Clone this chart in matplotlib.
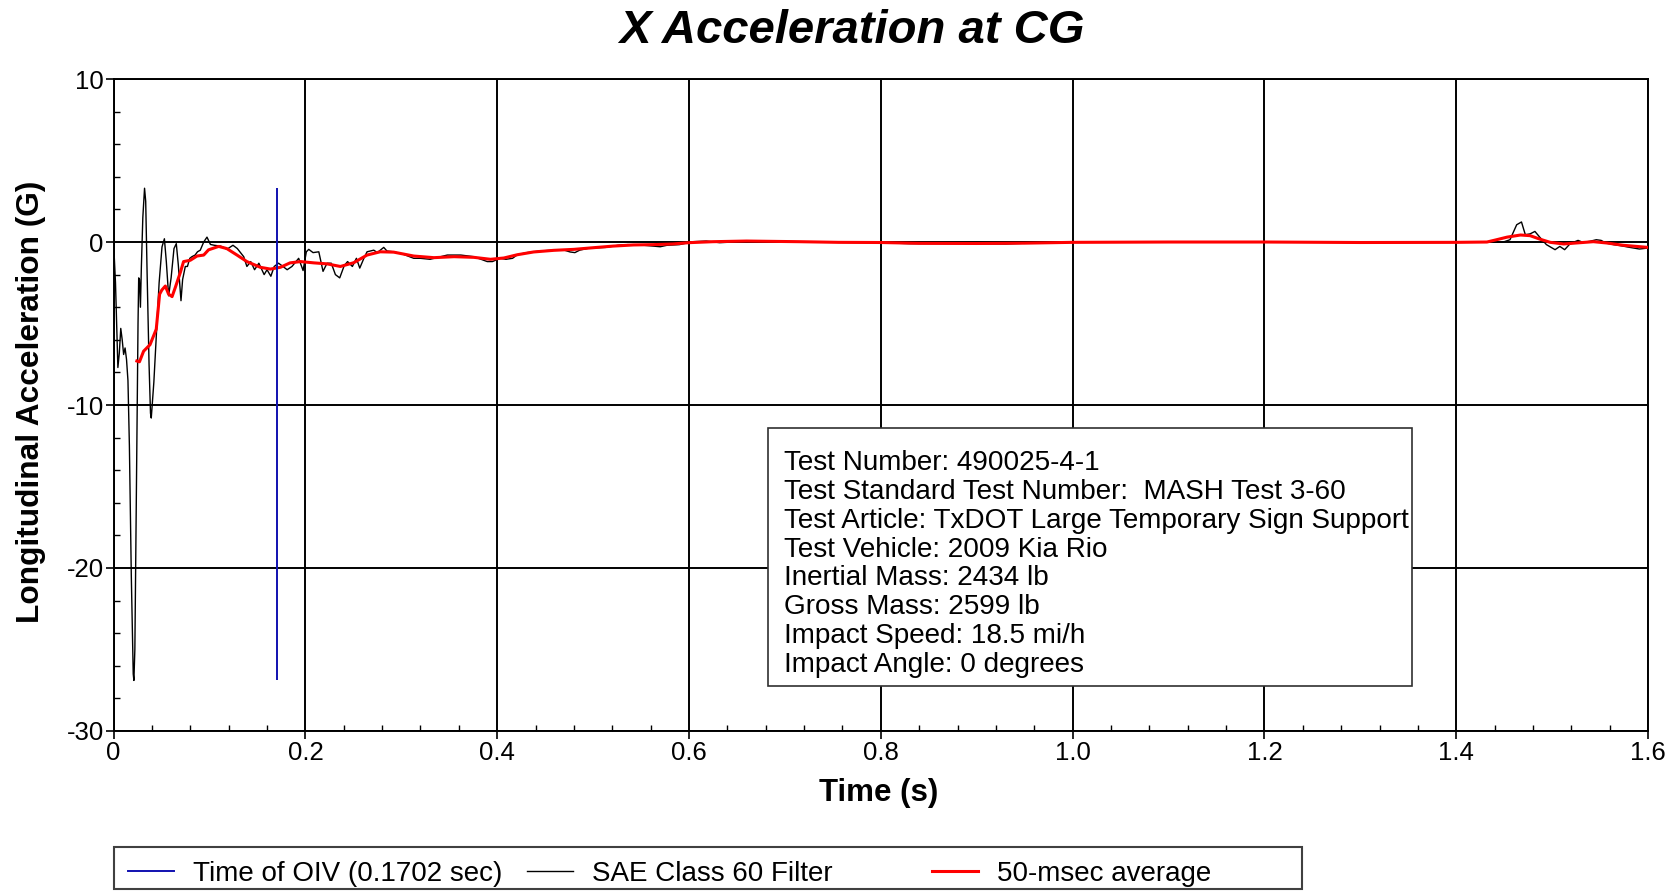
import numpy as np
import matplotlib
matplotlib.use("Agg")
import matplotlib.pyplot as plt
from matplotlib.ticker import MultipleLocator
from matplotlib.patches import Rectangle
from matplotlib.lines import Line2D

plt.rcParams['font.family'] = ['Liberation Sans', 'DejaVu Sans']

# SAE Class 60 filtered trace (time s, accel G)
sae_t = [0.000, 0.002, 0.0045, 0.006, 0.0075, 0.009, 0.0105, 0.012, 0.0135, 0.015,
         0.0165, 0.0185, 0.0205, 0.0212, 0.0222, 0.024, 0.0255, 0.0262, 0.027, 0.028,
         0.029, 0.0305, 0.0323, 0.0335, 0.035, 0.037, 0.0385, 0.0393, 0.0405, 0.042,
         0.0445, 0.0475, 0.0505, 0.053, 0.055, 0.0574, 0.060, 0.063, 0.0654, 0.0675,
         0.0703, 0.072, 0.0748, 0.077, 0.0795, 0.0817, 0.085, 0.0875, 0.0904, 0.094,
         0.0974, 0.101, 0.105, 0.1115, 0.1148, 0.118, 0.1245, 0.129, 0.1357, 0.139,
         0.143, 0.147, 0.1515, 0.157, 0.160, 0.164, 0.1675, 0.172, 0.1755, 0.181,
         0.186, 0.193, 0.1976, 0.201, 0.2035, 0.208, 0.214, 0.2184, 0.2226, 0.227,
         0.2313, 0.2358, 0.2405, 0.244, 0.249, 0.2532, 0.2567, 0.261, 0.2643, 0.2713,
         0.275, 0.2817, 0.285, 0.292, 0.302, 0.313, 0.320, 0.330, 0.348, 0.362,
         0.3757, 0.3896, 0.395, 0.403, 0.409, 0.416, 0.421, 0.431, 0.445, 0.459,
         0.470, 0.476, 0.481, 0.486, 0.496, 0.513, 0.526, 0.536, 0.553, 0.570,
         0.577, 0.590, 0.604, 0.618, 0.632, 0.646, 0.700, 0.760, 0.800, 0.830,
         0.880, 0.930, 0.960, 1.000, 1.100, 1.200, 1.300, 1.400, 1.449, 1.456,
         1.463, 1.468, 1.472, 1.477, 1.482, 1.487, 1.494, 1.503, 1.508, 1.513,
         1.518, 1.522, 1.527, 1.532, 1.539, 1.546, 1.551, 1.556, 1.564, 1.571,
         1.581, 1.591, 1.600]
sae_g = [0.0, -2.5, -7.7, -6.8, -5.3, -6.0, -6.9, -6.5, -7.2, -8.5,
         -12.5, -20.5, -26.5, -26.9, -25.0, -14.0, -5.0, -2.2, -2.3, -4.0,
         -1.5, 1.5, 3.3, 2.5, -2.0, -7.5, -10.5, -10.8, -9.8, -8.6,
         -5.8, -2.5, -0.3, 0.2, -1.2, -3.3, -2.2, -0.4, -0.1, -1.4,
         -3.6, -2.3, -1.5, -1.5, -1.0, -0.9, -0.8, -0.6, -0.5, 0.0,
         0.3, -0.15, -0.2, -0.25, -0.33, -0.45, -0.2, -0.4, -0.9, -1.5,
         -1.2, -1.7, -1.3, -2.0, -1.7, -2.1, -1.5, -1.3, -1.45, -1.7,
         -1.5, -1.0, -1.75, -0.6, -0.45, -0.65, -0.6, -1.8, -1.3, -1.3,
         -2.0, -2.2, -1.45, -1.2, -1.5, -1.0, -1.6, -1.0, -0.6, -0.5,
         -0.65, -0.33, -0.55, -0.6, -0.75, -1.0, -1.0, -1.06, -0.8, -0.8,
         -0.9, -1.2, -1.2, -1.0, -1.06, -1.0, -0.78, -0.65, -0.55, -0.5,
         -0.5, -0.61, -0.65, -0.5, -0.37, -0.33, -0.2, -0.16, -0.2, -0.29,
         -0.2, -0.16, 0.02, 0.06, -0.04, 0.0, 0.03, -0.02, -0.04, -0.1,
         -0.1, -0.12, -0.05, -0.02, 0.0, 0.0, -0.03, -0.02, 0.0, 0.14,
         1.06, 1.23, 0.45, 0.5, 0.65, 0.3, -0.16, -0.47, -0.27, -0.47,
         -0.15, -0.02, 0.1, -0.02, 0.04, 0.14, 0.1, -0.06, -0.16, -0.22,
         -0.33, -0.43, -0.37]

# 50-msec moving average
avg_t = [0.0243, 0.027, 0.0313, 0.038, 0.0445, 0.048, 0.0504, 0.054, 0.0574, 0.061,
         0.0643, 0.0696, 0.073, 0.080, 0.087, 0.094, 0.099, 0.1096, 0.118, 0.1287,
         0.139, 0.153, 0.1635, 0.174, 0.184, 0.195, 0.209, 0.2226, 0.2365, 0.2504,
         0.2643, 0.278, 0.292, 0.313, 0.334, 0.355, 0.3757, 0.393, 0.407, 0.421,
         0.438, 0.459, 0.480, 0.500, 0.521, 0.542, 0.563, 0.583, 0.600, 0.625,
         0.660, 0.687, 0.715, 0.756, 0.800, 0.840, 0.900, 0.950, 1.000, 1.100,
         1.200, 1.300, 1.400, 1.432, 1.442, 1.453, 1.467, 1.477, 1.487, 1.498,
         1.512, 1.525, 1.543, 1.557, 1.574, 1.588, 1.600]
avg_g = [-7.3, -7.35, -6.7, -6.3, -5.35, -3.2, -2.94, -2.7, -3.2, -3.35,
         -2.8, -1.87, -1.2, -1.12, -0.86, -0.8, -0.48, -0.27, -0.4, -0.8,
         -1.2, -1.55, -1.66, -1.55, -1.28, -1.2, -1.28, -1.34, -1.5, -1.27,
         -0.8, -0.6, -0.62, -0.86, -0.96, -0.9, -0.94, -1.06, -0.98, -0.78,
         -0.61, -0.51, -0.45, -0.35, -0.25, -0.18, -0.16, -0.12, -0.04, 0.02,
         0.06, 0.04, 0.02, -0.02, -0.03, -0.08, -0.09, -0.07, -0.02, 0.0,
         0.0, -0.03, -0.02, 0.0, 0.14, 0.3, 0.43, 0.39, 0.18, -0.02,
         -0.12, -0.06, 0.02, -0.06, -0.2, -0.27, -0.33]

oiv_time = 0.1702

x_ticks = [0, 0.2, 0.4, 0.6, 0.8, 1.0, 1.2, 1.4, 1.6]
x_labels = ['0', '0.2', '0.4', '0.6', '0.8', '1.0', '1.2', '1.4', '1.6']
y_ticks = [-30, -20, -10, 0, 10]
y_labels = ['-30', '-20', '-10', '0', '10']

info_lines = [
    "Test Number: 490025-4-1",
    "Test Standard Test Number:  MASH Test 3-60",
    "Test Article: TxDOT Large Temporary Sign Support",
    "Test Vehicle: 2009 Kia Rio",
    "Inertial Mass: 2434 lb",
    "Gross Mass: 2599 lb",
    "Impact Speed: 18.5 mi/h",
    "Impact Angle: 0 degrees",
]

fig = plt.figure(figsize=(16.8, 8.91), dpi=100)
ax = fig.add_axes([0.0676, 0.1796, 0.9134, 0.7317])

ax.plot(sae_t, sae_g, color='black', lw=1.0, zorder=3)
ax.plot(avg_t, avg_g, color='#ff0000', lw=2.2, zorder=4)
ax.vlines(oiv_time, min(sae_g), max(sae_g), color='#1010b0', lw=1.4, zorder=5)

ax.set_xlim(0, 1.6)
ax.set_ylim(-30, 10)
ax.set_xticks(x_ticks)
ax.set_xticklabels(x_labels)
ax.set_yticks(y_ticks)
ax.set_yticklabels(y_labels)
ax.xaxis.set_minor_locator(MultipleLocator(0.04))
ax.yaxis.set_minor_locator(MultipleLocator(2))
ax.tick_params(which='major', direction='out', length=6, width=1.2, pad=1,
               labelsize=18.5, top=False, right=False)
ax.tick_params(which='minor', direction='in', length=4, width=1.0,
               top=False, right=False)
ax.grid(True, which='major', color='black', lw=1.4)
ax.set_axisbelow(True)
for sp in ax.spines.values():
    sp.set_linewidth(1.4)
    sp.set_color('black')

fig.text(0.507, 0.965, "X Acceleration at CG", ha='center', va='center',
         fontsize=34, fontweight='bold', fontstyle='italic')
fig.text(0.523, 0.110, "Time (s)", ha='center', va='center',
         fontsize=22.5, fontweight='bold')
fig.text(0.0185, 0.549, "Longitudinal Acceleration (G)", ha='center', va='center',
         rotation=90, fontsize=22.8, fontweight='bold')

# info box
ax.add_patch(Rectangle((0.4571, 0.2301), 0.3833, 0.2901, transform=fig.transFigure,
                       facecolor='white', edgecolor='#303030', lw=1.2,
                       zorder=6, clip_on=False))
ax.text(0.4667, 0.367, "\n".join(info_lines), transform=fig.transFigure,
        ha='left', va='center', fontsize=20.1, linespacing=1.14, zorder=7)

# legend strip at the bottom
fig.add_artist(Rectangle((0.0676, 0.0022), 0.7074, 0.0471, transform=fig.transFigure,
                         facecolor='white', edgecolor='#404040', lw=1.5))
legend_items = [
    (Line2D([], [], color='#1010b0', lw=1.4), "Time of OIV (0.1702 sec)", 128),
    (Line2D([], [], color='black', lw=1.0), "SAE Class 60 Filter", 527),
    (Line2D([], [], color='#ff0000', lw=2.2), "50-msec average", 932),
]
for handle, label, xpix in legend_items:
    fig.legend([handle], [label], loc='center left',
               bbox_to_anchor=(xpix / 1680, 1 - 874 / 891),
               frameon=False, fontsize=20, handlelength=1.65,
               handletextpad=0.68, borderpad=0, borderaxespad=0)

fig.savefig("out.png", dpi=100)
